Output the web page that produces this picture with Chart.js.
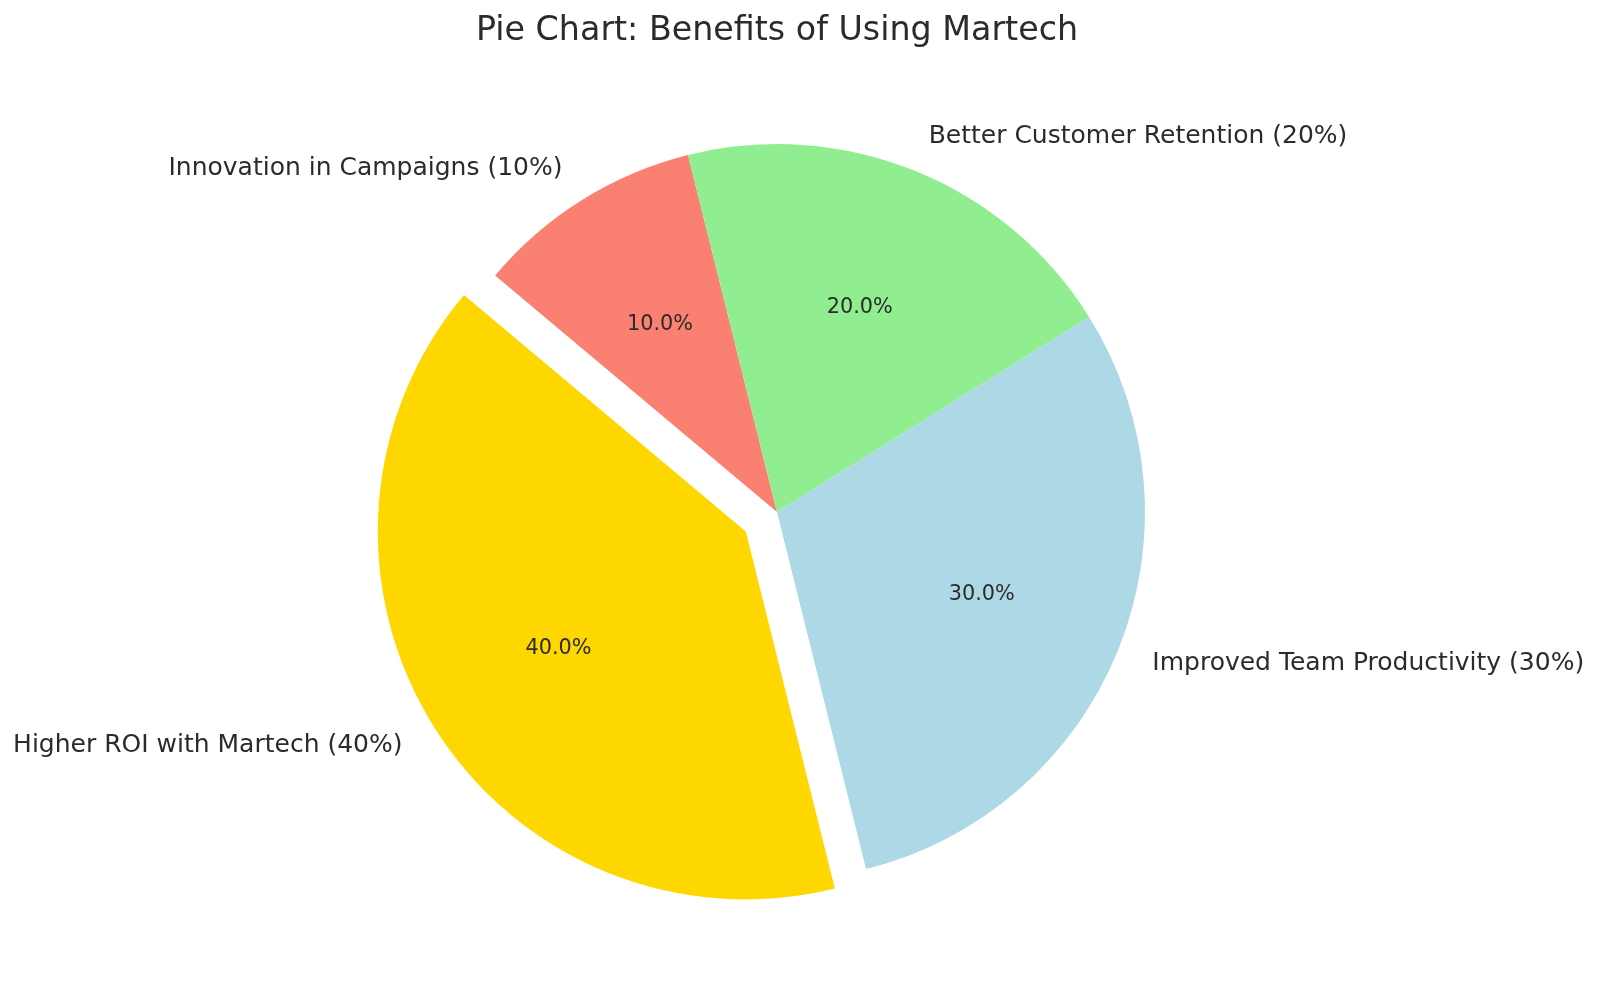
<!DOCTYPE html>
<html>
<head>
<meta charset="utf-8">
<script src="https://cdn.jsdelivr.net/npm/chart.js@4.4.1/dist/chart.umd.min.js"></script>
<style>
  html, body { margin: 0; padding: 0; background: #ffffff; }
  canvas { display: block; }
</style>
</head>
<body>
<canvas id="c" width="1600" height="988"></canvas>
<script>
// ---- data (matplotlib order, counter-clockwise from 140°) ----
const categories = ['Higher ROI with Martech', 'Improved Team Productivity', 'Better Customer Retention', 'Innovation in Campaigns'];
const values = [40, 30, 20, 10];
const colors = ['#FFD700', '#ADD8E6', '#90EE90', '#FA8072'];
const explode = [0.1, 0, 0, 0];
const titleText = 'Pie Chart: Benefits of Using Martech';

// Chart.js draws clockwise, so reverse to reproduce the counter-clockwise layout
const cats = categories.slice().reverse();
const vals = values.slice().reverse();
const cols = colors.slice().reverse();
const expl = explode.slice().reverse();
const total = vals.reduce((a, b) => a + b, 0);

const TEXT = '#2b2b2b';
const FONT = '"DejaVu Sans", sans-serif';

const pieLabels = {
  id: 'pieLabels',
  afterDatasetUpdate(chart, args) {
    const meta = args.meta;
    meta.data.forEach((arc, i) => {
      const f = expl[i];
      if (!f) return;
      const mid = (arc.startAngle + arc.endAngle) / 2;
      arc.x += Math.cos(mid) * f * arc.outerRadius;
      arc.y += Math.sin(mid) * f * arc.outerRadius;
    });
  },
  afterDatasetsDraw(chart) {
    const ctx = chart.ctx;
    const meta = chart.getDatasetMeta(0);
    ctx.save();
    meta.data.forEach((arc, i) => {
      const mid = (arc.startAngle + arc.endAngle) / 2;
      const r = arc.outerRadius;
      const c = Math.cos(mid), s = Math.sin(mid);
      // outer label
      ctx.fillStyle = TEXT;
      ctx.font = '25px ' + FONT;
      ctx.textBaseline = 'middle';
      ctx.textAlign = c > 0 ? 'left' : 'right';
      ctx.fillText(cats[i] + ' (' + vals[i] + '%)', arc.x + c * 1.1 * r, arc.y + s * 1.1 * r);
      // percentage
      ctx.font = '20.8px ' + FONT;
      ctx.textAlign = 'center';
      ctx.fillText((vals[i] / total * 100).toFixed(1) + '%', arc.x + c * 0.6 * r, arc.y + s * 0.6 * r);
    });
    ctx.restore();
  }
};

new Chart(document.getElementById('c'), {
  type: 'pie',
  data: {
    labels: cats,
    datasets: [{
      data: vals,
      backgroundColor: cols,
      borderWidth: 0,
      hoverOffset: 0
    }]
  },
  options: {
    responsive: false,
    animation: false,
    events: [],
    rotation: -50,
    radius: 368,
    layout: { padding: { left: 0, right: 46, top: 0, bottom: 15 } },
    plugins: {
      legend: { display: false },
      tooltip: { enabled: false },
      title: {
        display: true,
        text: titleText,
        color: TEXT,
        font: { family: FONT, size: 33.3, weight: 'normal' },
        padding: { top: 11, bottom: 0 }
      }
    }
  },
  plugins: [pieLabels]
});
</script>
</body>
</html>
